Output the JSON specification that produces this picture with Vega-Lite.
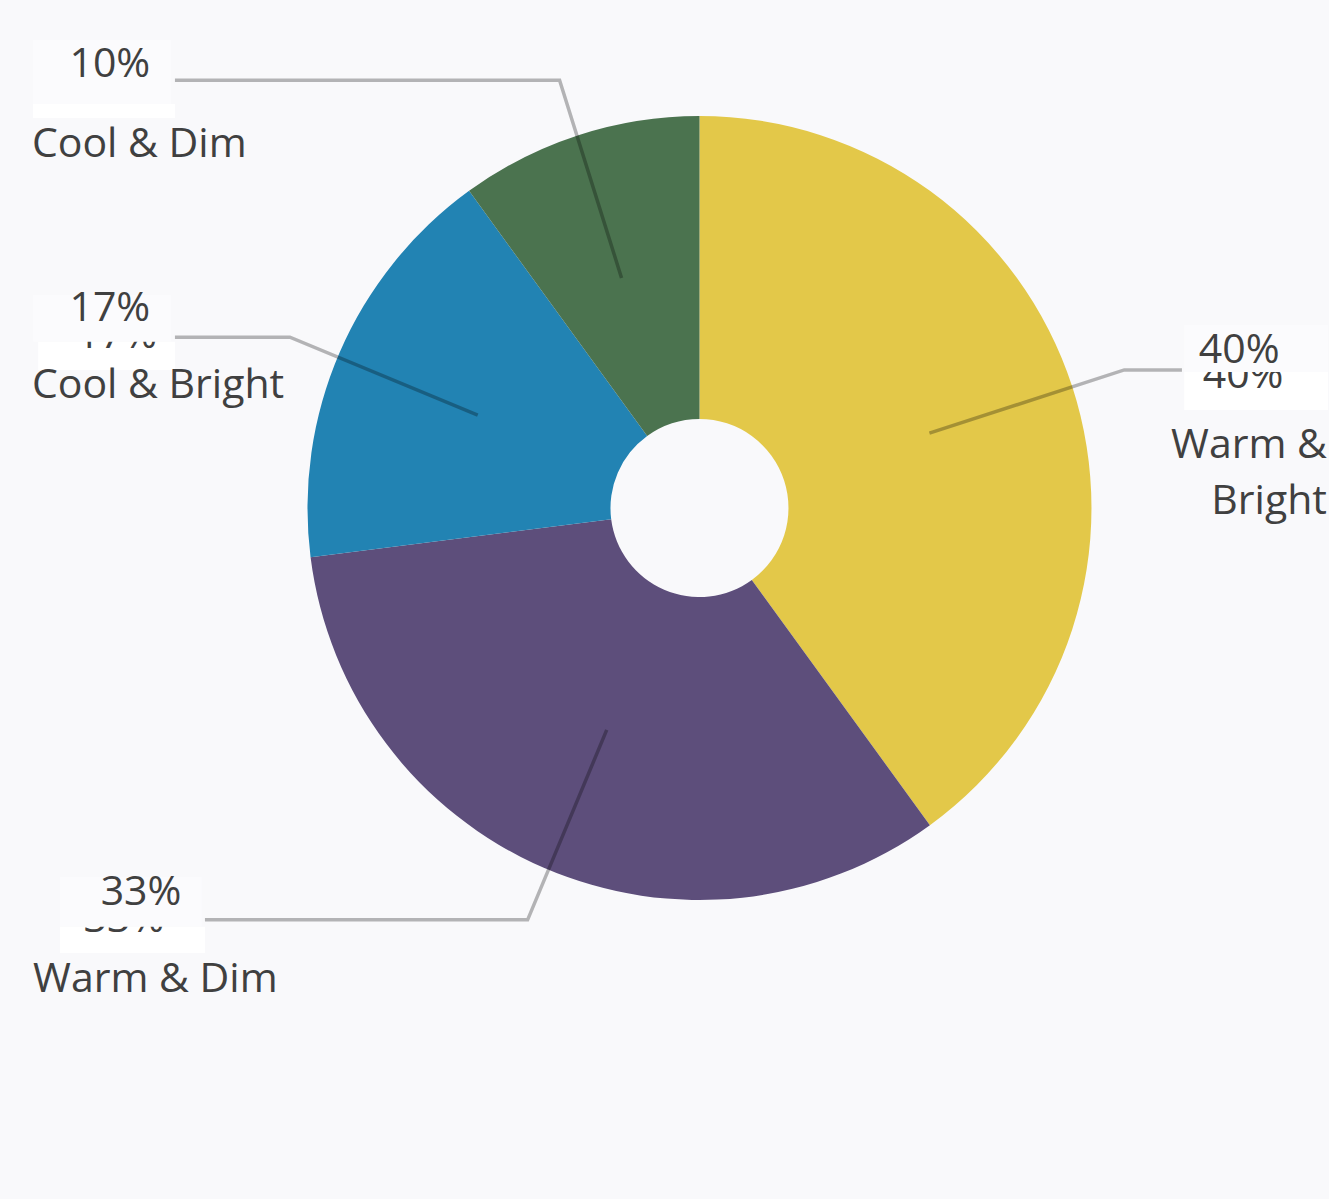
{
  "$schema": "https://vega.github.io/schema/vega-lite/v6.json",
  "autosize": {"type": "fit", "contains": "padding"},
  "width": 1329,
  "height": 1199,
  "padding": 0,
  "background": "#F9F9FB",
  "config": {"view": {"stroke": null}},
  "datasets": {
    "slices": [
      {"cat": "Warm & Bright", "value": 40, "ord": 1},
      {"cat": "Warm & Dim", "value": 33, "ord": 2},
      {"cat": "Cool & Bright", "value": 17, "ord": 3},
      {"cat": "Cool & Dim", "value": 10, "ord": 4}
    ],
    "leaders": [
      {"cat": "Cool & Dim", "i": 1, "x": -0.200, "y": 0.590},
      {"cat": "Cool & Dim", "i": 2, "x": -0.359, "y": 1.097},
      {"cat": "Cool & Dim", "i": 3, "x": -1.346, "y": 1.097},
      {"cat": "Cool & Bright", "i": 1, "x": -0.569, "y": 0.238},
      {"cat": "Cool & Bright", "i": 2, "x": -1.051, "y": 0.438},
      {"cat": "Cool & Bright", "i": 3, "x": -1.346, "y": 0.438},
      {"cat": "Warm & Bright", "i": 1, "x": 0.590, "y": 0.192},
      {"cat": "Warm & Bright", "i": 2, "x": 1.090, "y": 0.354},
      {"cat": "Warm & Bright", "i": 3, "x": 1.238, "y": 0.354},
      {"cat": "Warm & Dim", "i": 1, "x": -0.238, "y": -0.569},
      {"cat": "Warm & Dim", "i": 2, "x": -0.441, "y": -1.056},
      {"cat": "Warm & Dim", "i": 3, "x": -1.269, "y": -1.056}
    ],
    "ghostBoxes": [
      {"cat": "Cool & Dim", "x": -1.710, "x2": -1.346, "y": 1.036, "y2": 1.000},
      {"cat": "Cool & Bright", "x": -1.697, "x2": -1.346, "y": 0.426, "y2": 0.354},
      {"cat": "Warm & Bright", "x": 1.244, "x2": 1.613, "y": 0.349, "y2": 0.251},
      {"cat": "Warm & Dim", "x": -1.641, "x2": -1.269, "y": -1.074, "y2": -1.141}
    ],
    "ghostText": [
      {"cat": "Cool & Bright", "label": "17%", "x": -1.495, "y": 0.410},
      {"cat": "Warm & Bright", "label": "40%", "x": 1.395, "y": 0.308},
      {"cat": "Warm & Dim", "label": "33%", "x": -1.477, "y": -1.087}
    ],
    "boxes": [
      {"cat": "Cool & Dim", "x": -1.710, "x2": -1.356, "y": 1.200, "y2": 1.036},
      {"cat": "Cool & Bright", "x": -1.710, "x2": -1.356, "y": 0.546, "y2": 0.426},
      {"cat": "Warm & Bright", "x": 1.244, "x2": 1.613, "y": 0.469, "y2": 0.349},
      {"cat": "Warm & Dim", "x": -1.641, "x2": -1.277, "y": -0.946, "y2": -1.074}
    ],
    "pct": [
      {"cat": "Cool & Dim", "label": "10%", "x": -1.513, "y": 1.105},
      {"cat": "Cool & Bright", "label": "17%", "x": -1.513, "y": 0.479},
      {"cat": "Warm & Bright", "label": "40%", "x": 1.385, "y": 0.372},
      {"cat": "Warm & Dim", "label": "33%", "x": -1.433, "y": -1.018}
    ],
    "names": [
      {"cat": "Cool & Dim", "label": "Cool & Dim", "x": -1.713, "y": 0.900},
      {"cat": "Cool & Bright", "label": "Cool & Bright", "x": -1.713, "y": 0.282},
      {"cat": "Warm & Dim", "label": "Warm & Dim", "x": -1.710, "y": -1.241},
      {"cat": "Warm & Bright", "label": "Warm &\nBright", "x": 1.610, "y": 0.128}
    ]
  },
  "layer": [
    {
      "data": {"name": "slices"},
      "mark": {"type": "arc", "outerRadius": 392, "innerRadius": 89},
      "encoding": {
        "x": {"datum": 0, "type": "quantitative", "scale": {"domain": [-1.7949, 1.6128], "nice": false, "zero": false}, "axis": null},
        "y": {"datum": 0, "type": "quantitative", "scale": {"domain": [-1.7718, 1.3026], "nice": false, "zero": false}, "axis": null},
        "theta": {"field": "value", "type": "quantitative", "stack": true},
        "order": {"field": "ord", "type": "quantitative"},
        "color": {
          "field": "cat", "type": "nominal", "legend": null,
          "scale": {
            "domain": ["Warm & Bright", "Warm & Dim", "Cool & Bright", "Cool & Dim"],
            "range": ["#E3C849", "#5D4E7B", "#2283B3", "#4B734F"]
          }
        }
      }
    },
    {
      "data": {"name": "leaders"},
      "mark": {"type": "line", "stroke": "#000000", "strokeOpacity": 0.28, "strokeWidth": 3.5},
      "encoding": {
        "x": {"field": "x", "type": "quantitative", "scale": {"domain": [-1.7949, 1.6128], "nice": false, "zero": false}, "axis": null},
        "y": {"field": "y", "type": "quantitative", "scale": {"domain": [-1.7718, 1.3026], "nice": false, "zero": false}, "axis": null},
        "detail": {"field": "cat", "type": "nominal"},
        "order": {"field": "i", "type": "quantitative"}
      }
    },
    {
      "data": {"name": "ghostBoxes"},
      "mark": {"type": "rect", "fill": "#FFFFFF"},
      "encoding": {
        "x": {"field": "x", "type": "quantitative", "scale": {"domain": [-1.7949, 1.6128], "nice": false, "zero": false}, "axis": null},
        "x2": {"field": "x2"},
        "y": {"field": "y", "type": "quantitative", "scale": {"domain": [-1.7718, 1.3026], "nice": false, "zero": false}, "axis": null},
        "y2": {"field": "y2"}
      }
    },
    {
      "data": {"name": "ghostText"},
      "mark": {"type": "text", "font": "Open Sans", "fontSize": 41, "fill": "#404040", "align": "center", "baseline": "alphabetic"},
      "encoding": {
        "x": {"field": "x", "type": "quantitative", "scale": {"domain": [-1.7949, 1.6128], "nice": false, "zero": false}, "axis": null},
        "y": {"field": "y", "type": "quantitative", "scale": {"domain": [-1.7718, 1.3026], "nice": false, "zero": false}, "axis": null},
        "text": {"field": "label"}
      }
    },
    {
      "data": {"name": "boxes"},
      "mark": {"type": "rect", "fill": "#FBFBFD"},
      "encoding": {
        "x": {"field": "x", "type": "quantitative", "scale": {"domain": [-1.7949, 1.6128], "nice": false, "zero": false}, "axis": null},
        "x2": {"field": "x2"},
        "y": {"field": "y", "type": "quantitative", "scale": {"domain": [-1.7718, 1.3026], "nice": false, "zero": false}, "axis": null},
        "y2": {"field": "y2"}
      }
    },
    {
      "data": {"name": "pct"},
      "mark": {"type": "text", "font": "Open Sans", "fontSize": 41, "fill": "#404040", "align": "center", "baseline": "alphabetic"},
      "encoding": {
        "x": {"field": "x", "type": "quantitative", "scale": {"domain": [-1.7949, 1.6128], "nice": false, "zero": false}, "axis": null},
        "y": {"field": "y", "type": "quantitative", "scale": {"domain": [-1.7718, 1.3026], "nice": false, "zero": false}, "axis": null},
        "text": {"field": "label"}
      }
    },
    {
      "data": {"name": "names"},
      "transform": [{"filter": "datum.cat !== 'Warm & Bright'"}],
      "mark": {"type": "text", "font": "Open Sans", "fontSize": 41, "fill": "#404040", "align": "left", "baseline": "alphabetic"},
      "encoding": {
        "x": {"field": "x", "type": "quantitative", "scale": {"domain": [-1.7949, 1.6128], "nice": false, "zero": false}, "axis": null},
        "y": {"field": "y", "type": "quantitative", "scale": {"domain": [-1.7718, 1.3026], "nice": false, "zero": false}, "axis": null},
        "text": {"field": "label"}
      }
    },
    {
      "data": {"name": "names"},
      "transform": [{"filter": "datum.cat === 'Warm & Bright'"}],
      "mark": {"type": "text", "font": "Open Sans", "fontSize": 41, "fill": "#404040", "align": "right", "baseline": "alphabetic", "lineBreak": "\n", "lineHeight": 56},
      "encoding": {
        "x": {"field": "x", "type": "quantitative", "scale": {"domain": [-1.7949, 1.6128], "nice": false, "zero": false}, "axis": null},
        "y": {"field": "y", "type": "quantitative", "scale": {"domain": [-1.7718, 1.3026], "nice": false, "zero": false}, "axis": null},
        "text": {"field": "label"}
      }
    }
  ]
}
